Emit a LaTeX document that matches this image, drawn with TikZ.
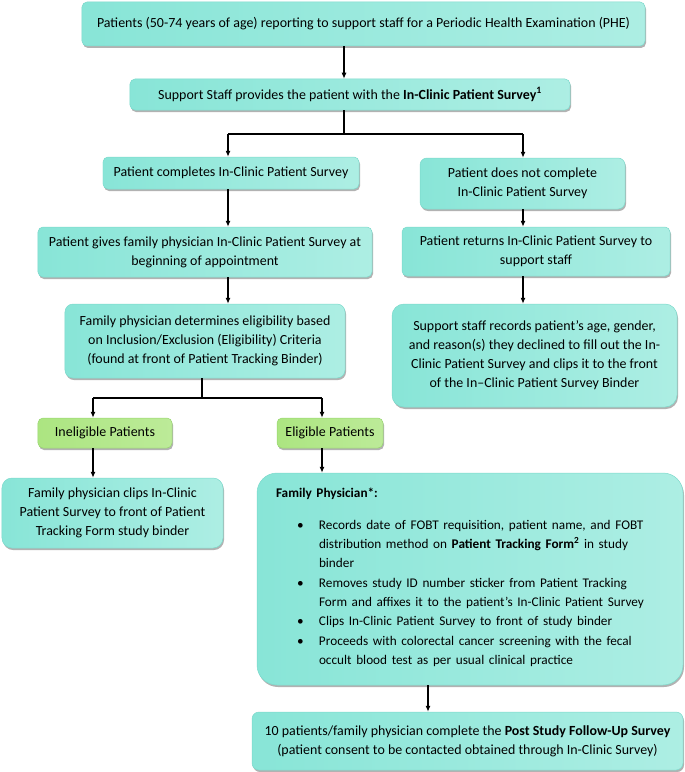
\documentclass[tikz,border=0pt]{standalone}
\usepackage{fontspec}
\setmainfont{Carlito}
\usetikzlibrary{arrows.meta,shadows,calc}
\definecolor{aquaD}{HTML}{88E5D7}
\definecolor{aquaL}{HTML}{DAF9F3}
\definecolor{aquaE}{HTML}{7CD9CB}
\definecolor{greenD}{HTML}{ACE581}
\definecolor{greenL}{HTML}{E2F8CF}
\definecolor{greenE}{HTML}{98D66E}
\begin{document}
\begin{tikzpicture}[x=1bp,y=-1bp,
  font=\fontsize{14}{19}\selectfont,
  box/.style={draw=aquaE, line width=0.5bp, left color=aquaD, middle color=aquaL,
    right color=aquaD!55!aquaL, rounded corners=5bp, align=center, inner sep=0pt,
    drop shadow={shadow xshift=1bp, shadow yshift=-2bp, opacity=0.3, fill=black}},
  gbox/.style={box, draw=greenE, left color=greenD, middle color=greenL, right color=greenD!70!greenL},
  arr/.style={line width=1.1bp, -{Latex[length=6bp,width=5bp]}},
  ln/.style={line width=1.1bp}]
\useasboundingbox (0,0) rectangle (685,772);

\node[box, minimum width=563bp, minimum height=44bp] (top) at (363.5,24)
  {Patients (50-74 years of age) reporting to support staff for a Periodic Health Examination (PHE)};
\node[box, minimum width=440bp, minimum height=31bp] (support) at (350,94.5)
  {Support Staff provides the patient with the \textbf{In-Clinic Patient Survey\textsuperscript{1}}};
\node[box, minimum width=256bp, minimum height=32bp] (completes) at (231,173)
  {Patient completes In-Clinic Patient Survey};
\node[box, minimum width=205bp, minimum height=51bp, rounded corners=7bp] (notcomp) at (522.5,183.5)
  {Patient does not complete\\In-Clinic Patient Survey};
\node[box, minimum width=334bp, minimum height=50bp] (gives) at (205,252)
  {Patient gives family physician In-Clinic Patient Survey at\\beginning of appointment};
\node[box, minimum width=268bp, minimum height=49bp] (returns) at (536,251.5)
  {Patient returns In-Clinic Patient Survey to\\support staff};
\node[box, minimum width=280bp, minimum height=74bp, rounded corners=8bp] (determ) at (205,341)
  {Family physician determines eligibility based\\on Inclusion/Exclusion (Eligibility) Criteria\\(found at front of Patient Tracking Binder)};
\node[box, minimum width=285bp, minimum height=103bp, rounded corners=12bp] (records) at (534.5,355.5)
  {Support staff records patient’s age, gender,\\and reason(s) they declined to fill out the In-\\Clinic Patient Survey and clips it to the front\\of the In–Clinic Patient Survey Binder};
\node[gbox, minimum width=134bp, minimum height=30bp] (inelig) at (105,433) {Ineligible Patients};
\node[gbox, minimum width=106bp, minimum height=30bp] (elig) at (330,433) {Eligible Patients};
\node[box, minimum width=221bp, minimum height=70bp, rounded corners=10bp] (clips) at (112.5,513)
  {Family physician clips In-Clinic\\Patient Survey to front of Patient\\Tracking Form study binder};
\node[box, minimum width=426bp, minimum height=212bp, rounded corners=20bp, align=left,
  inner xsep=19bp, text width=388bp] (big) at (470,579)
  {\fontsize{13.3}{19.4}\selectfont\textbf{Family Physician*:}\\[13bp]
   \begin{tabular}[t]{@{\hspace{21bp}}p{22bp}@{}l@{}}
   \textbullet & Records date of FOBT requisition, patient name, and FOBT\\
    & distribution method on \textbf{Patient Tracking Form\textsuperscript{2}} in study\\
    & binder\\
   \textbullet & Removes study ID number sticker from Patient Tracking\\
    & Form and affixes it to the patient’s In-Clinic Patient Survey\\
   \textbullet & Clips In-Clinic Patient Survey to front of study binder\\
   \textbullet & Proceeds with colorectal cancer screening with the fecal\\
    & occult blood test as per usual clinical practice
   \end{tabular}};
\node[box, minimum width=431bp, minimum height=58bp, rounded corners=7bp] (bottom) at (467.5,741)
  {10 patients/family physician complete the \textbf{Post Study Follow-Up Survey}\\(patient consent to be contacted obtained through In-Clinic Survey)};

% junction coordinates
\coordinate (j1) at (344,134);
\coordinate (j1L) at (228,134);
\coordinate (j1R) at (523,134);
\coordinate (j2) at (202,398);
\coordinate (j2L) at (93,398);
\coordinate (j2R) at (322,398);
\coordinate (xb) at (428,0);

\draw[arr] (top.south -| j1) -- (support.north -| j1);
\draw[ln] (support.south -| j1) -- (j1);
\draw[ln] (j1L) -- (j1R);
\draw[arr] (j1L) -- (completes.north -| j1L);
\draw[arr] (j1R) -- (notcomp.north -| j1R);
\draw[arr] (completes.south -| j1L) -- (gives.north -| j1L);
\draw[arr] (notcomp.south -| j1R) -- (returns.north -| j1R);
\draw[arr] (gives.south -| j1L) -- (determ.north -| j1L);
\draw[arr] (returns.south -| j1R) -- (records.north -| j1R);
\draw[ln] (determ.south -| j2) -- (j2);
\draw[ln] (j2L) -- (j2R);
\draw[arr] (j2L) -- (inelig.north -| j2L);
\draw[arr] (j2R) -- (elig.north -| j2R);
\draw[arr] (inelig.south -| j2L) -- (clips.north -| j2L);
\draw[arr] (elig.south -| j2R) -- (big.north -| j2R);
\draw[arr] (big.south -| xb) -- (bottom.north -| xb);
\end{tikzpicture}
\end{document}
